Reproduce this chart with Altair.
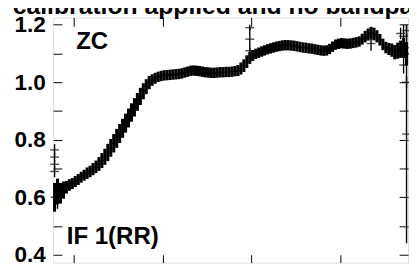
import altair as alt
import pandas as pd

FONT = "Liberation Sans"

title_text = ["No calibration applied and no bandpass"]
title_channel = [52.0]
title_amplitude = [1.2374]

channels = list(range(1, 121))
amplitude = [
    0.600, 0.620, 0.615, 0.625, 0.635, 0.643, 0.648, 0.655, 0.662, 0.670,
    0.677, 0.684, 0.690, 0.698, 0.706, 0.716, 0.728, 0.741, 0.756, 0.772,
    0.788, 0.805, 0.822, 0.840, 0.858, 0.876, 0.895, 0.913, 0.932, 0.951,
    0.969, 0.985, 0.999, 1.008, 1.014, 1.019, 1.022, 1.024, 1.025, 1.026,
    1.027, 1.028, 1.029, 1.031, 1.034, 1.037, 1.040, 1.041, 1.040, 1.039,
    1.037, 1.035, 1.034, 1.033, 1.033, 1.034, 1.035, 1.035, 1.036, 1.036,
    1.037, 1.039, 1.041, 1.048, 1.058, 1.072, 1.085, 1.093, 1.099, 1.103,
    1.107, 1.111, 1.115, 1.118, 1.121, 1.124, 1.126, 1.128, 1.129, 1.129,
    1.128, 1.127, 1.125, 1.123, 1.121, 1.120, 1.118, 1.117, 1.115, 1.113,
    1.111, 1.110, 1.111, 1.116, 1.124, 1.131, 1.134, 1.136, 1.135, 1.134,
    1.135, 1.137, 1.139, 1.142, 1.150, 1.159, 1.166, 1.171, 1.168, 1.160,
    1.148, 1.132, 1.121, 1.116, 1.112, 1.105, 1.110, 1.115, 1.120, 1.100,
]
amp_error = [
    0.050, 0.045, 0.035, 0.030, 0.022, 0.020, 0.019, 0.019, 0.019, 0.019,
    0.019, 0.020, 0.020, 0.021, 0.022, 0.024, 0.026, 0.028, 0.030, 0.031,
    0.032, 0.033, 0.033, 0.033, 0.033, 0.033, 0.032, 0.032, 0.031, 0.030,
    0.028, 0.026, 0.023, 0.020, 0.019, 0.018, 0.018, 0.018, 0.018, 0.018,
    0.018, 0.018, 0.018, 0.018, 0.018, 0.018, 0.018, 0.018, 0.018, 0.018,
    0.018, 0.018, 0.018, 0.018, 0.018, 0.018, 0.018, 0.018, 0.018, 0.018,
    0.018, 0.018, 0.019, 0.021, 0.022, 0.022, 0.021, 0.019, 0.018, 0.018,
    0.018, 0.018, 0.018, 0.018, 0.018, 0.018, 0.018, 0.018, 0.018, 0.018,
    0.018, 0.018, 0.018, 0.018, 0.018, 0.018, 0.018, 0.018, 0.018, 0.018,
    0.018, 0.018, 0.018, 0.018, 0.018, 0.018, 0.018, 0.018, 0.018, 0.018,
    0.018, 0.018, 0.018, 0.018, 0.019, 0.020, 0.021, 0.022, 0.022, 0.021,
    0.020, 0.020, 0.020, 0.021, 0.023, 0.025, 0.028, 0.030, 0.035, 0.040,
]

out_channel = [1, 1, 1, 1, 2, 67, 67, 67, 108, 118, 119, 119, 120, 120, 120, 120]
out_amplitude = [0.765, 0.740, 0.715, 0.690, 0.580, 1.190, 1.150, 1.110,
                 1.135, 1.170, 1.160, 1.060, 1.180, 1.120, 1.000, 0.820]
out_error = [0.020, 0.015, 0.015, 0.020, 0.020, 0.010, 0.040, 0.010,
             0.025, 0.020, 0.040, 0.030, 0.020, 0.050, 0.020, 0.380]

y_ticks = [0.4, 0.5, 0.6, 0.7, 0.8, 0.9, 1.0, 1.1, 1.2]
x_ticks = [7, 37, 67, 97]

note_text = ["ZC", "IF 1(RR)"]
note_channel = [7.8, 4.6]
note_amplitude = [1.1166, 0.4375]

W, H = 362, 250

main = pd.DataFrame({"ch": [c - 0.5 for c in channels], "amp": amplitude, "err": amp_error})
main["lo"] = main["amp"] - main["err"]
main["hi"] = main["amp"] + main["err"]

outl = pd.DataFrame({"ch": [c - 0.5 for c in out_channel], "amp": out_amplitude, "err": out_error})
outl["lo"] = outl["amp"] - outl["err"]
outl["hi"] = outl["amp"] + outl["err"]

notes = pd.DataFrame({"label": note_text, "ch": note_channel, "amp": note_amplitude})
heading = pd.DataFrame({"label": title_text, "ch": title_channel, "amp": title_amplitude})

xs = alt.Scale(domain=[0, 120], nice=False, zero=False)
ys = alt.Scale(domain=[0.373, 1.2255], nice=False, zero=False)

common_axis = dict(grid=False, domain=False, title=None, tickColor="black", tickWidth=1)

y_axis_labels = alt.Axis(
    orient="right", offset=-W, values=y_ticks, tickSize=9,
    labelExpr="round(datum.value*10) % 2 == 0 ? format(datum.value, '.1f') : ''",
    labelPadding=-17, labelAlign="right", labelBaseline="middle",
    labelFont=FONT, labelFontWeight="bold", labelFontSize=23, labelColor="black",
    labelFlush=False, labelOverlap=False, **common_axis)
y_axis_right = alt.Axis(orient="left", offset=-W, values=y_ticks, tickSize=9,
                        labels=False, **common_axis)
x_axis_bottom = alt.Axis(orient="top", offset=-H, values=x_ticks, tickSize=8,
                         labels=False, **common_axis)
x_axis_top = alt.Axis(orient="bottom", offset=-H, values=x_ticks, tickSize=9,
                      labels=False, **common_axis)

bars = alt.Chart(main).mark_rule(color="black", strokeWidth=3.1).encode(
    x=alt.X("ch:Q", scale=xs, axis=x_axis_bottom),
    y=alt.Y("lo:Q", scale=ys, axis=y_axis_labels),
    y2="hi:Q",
)
crosses = alt.Chart(main).mark_tick(color="black", orient="horizontal", size=8, thickness=1.6).encode(
    x=alt.X("ch:Q", scale=xs, axis=x_axis_top),
    y=alt.Y("amp:Q", scale=ys, axis=y_axis_right),
)
out_bars = alt.Chart(outl).mark_rule(color="black", strokeWidth=1.4).encode(
    x=alt.X("ch:Q", scale=xs, axis=None),
    y=alt.Y("lo:Q", scale=ys, axis=None),
    y2="hi:Q",
)
out_crosses = alt.Chart(outl).mark_tick(color="black", orient="horizontal", size=9, thickness=1.4).encode(
    x=alt.X("ch:Q", scale=xs, axis=None),
    y=alt.Y("amp:Q", scale=ys, axis=None),
)
text = alt.Chart(notes).mark_text(
    align="left", baseline="alphabetic", font=FONT, fontSize=24.5,
    fontWeight="bold", color="black"
).encode(
    x=alt.X("ch:Q", scale=xs, axis=None),
    y=alt.Y("amp:Q", scale=ys, axis=None),
    text="label:N",
)
head = alt.Chart(heading).mark_text(
    align="center", baseline="alphabetic", font=FONT, fontSize=25.2,
    fontWeight="bold", color="black"
).encode(
    x=alt.X("ch:Q", scale=xs, axis=None),
    y=alt.Y("amp:Q", scale=ys, axis=None),
    text="label:N",
)

chart = alt.layer(bars, crosses, out_bars, out_crosses, text, head).resolve_axis(
    x="independent", y="independent"
).properties(
    width=W, height=H,
    padding={"left": 46, "top": 7, "right": 1, "bottom": 11},
    autosize=alt.AutoSizeParams(type="none"),
).configure_view(stroke="#222222", strokeWidth=1).configure(background="white")

chart.save("out.html", embed_options={"renderer": "svg", "actions": False})
